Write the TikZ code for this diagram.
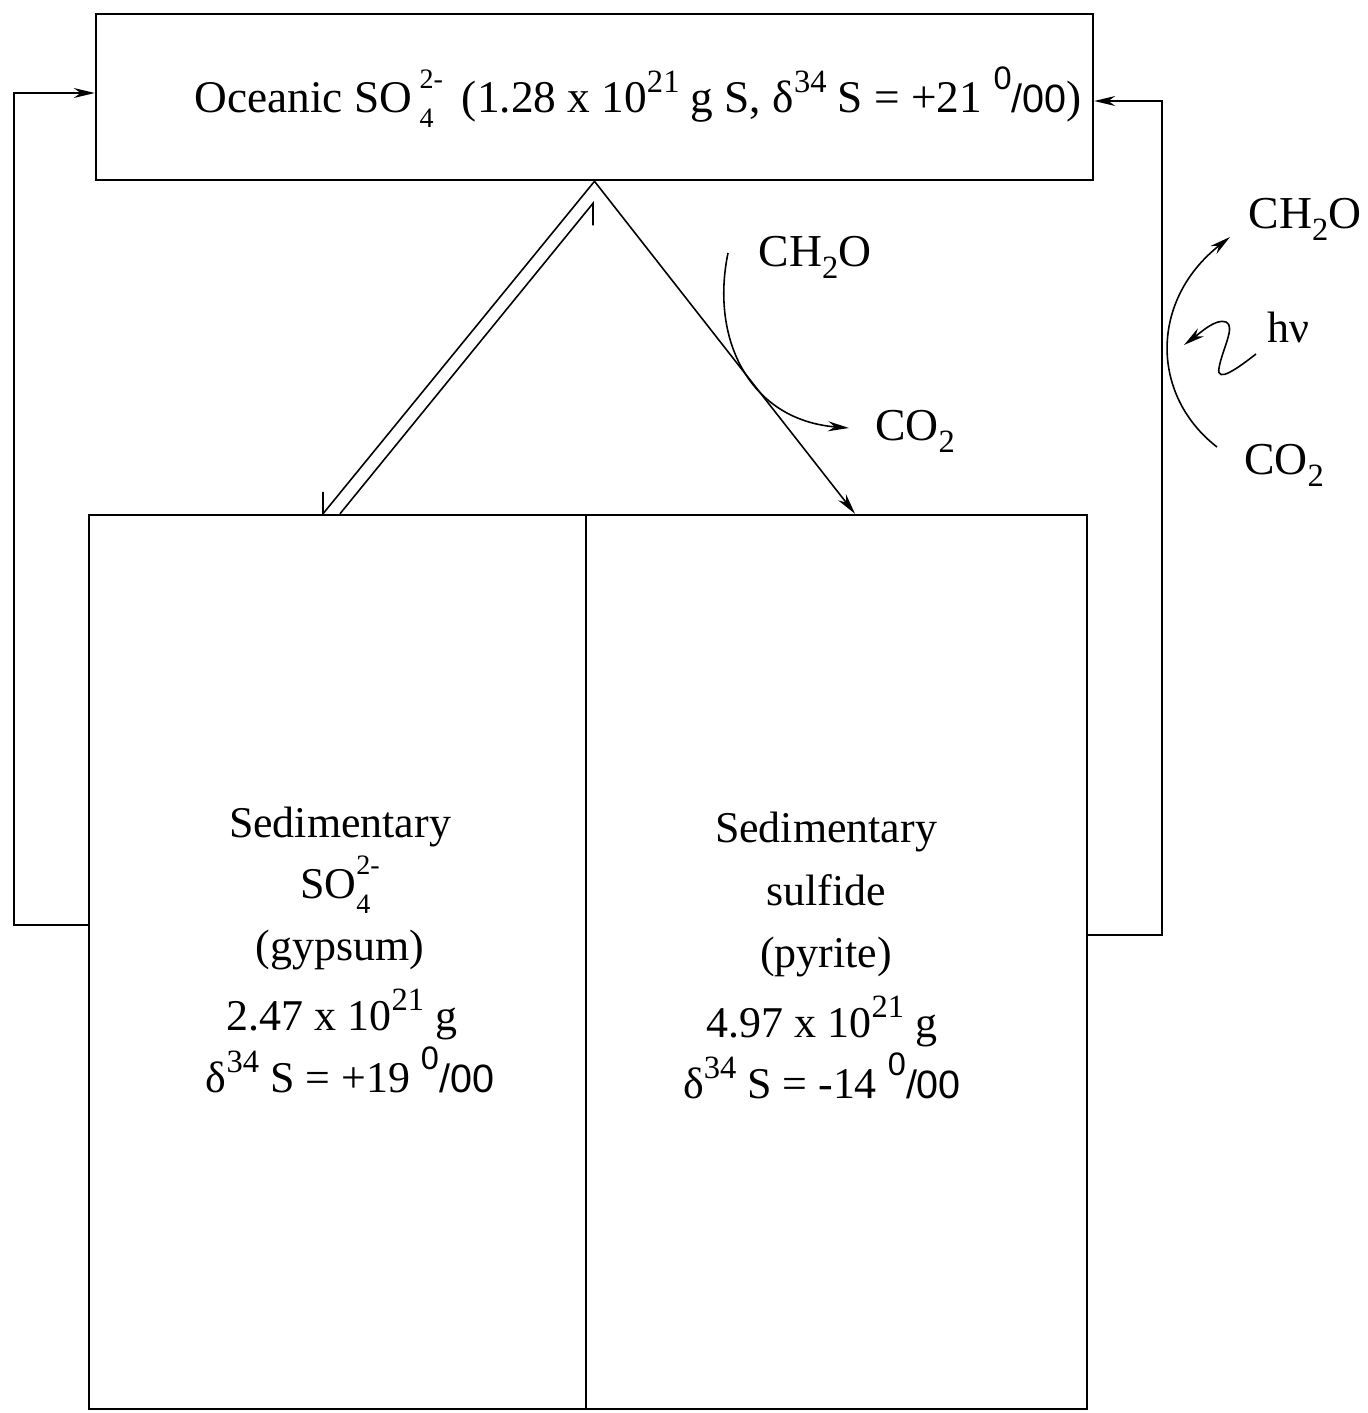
\documentclass[tikz,border=0pt]{standalone}
\usepackage{fontspec}
\setmainfont{Liberation Serif}
\setsansfont{Liberation Sans}
\usetikzlibrary{arrows.meta,calc}

\newcommand\supr[1]{\raisebox{0.95ex}{\fontsize{18.5}{18.5}\selectfont #1}}
\newcommand\subr[1]{\raisebox{-0.6ex}{\fontsize{18.5}{18.5}\selectfont #1}}
\newcommand\supi[1]{\raisebox{1.15ex}{\fontsize{16}{16}\selectfont #1}}
\newcommand\subi[1]{\raisebox{-0.75ex}{\fontsize{16}{16}\selectfont #1}}
\newcommand\ionx[2]{\mbox{\rlap{\subi{#1}}\supi{#2}}}
\newcommand\pml{{\sffamily\supr{0}\fontsize{22.5}{22.5}\selectfont/00}}

\begin{document}
\begin{tikzpicture}[x=0.02cm,y=-0.02cm,
  box/.style={draw, line width=1.5pt, inner sep=0pt},
  lbl/.style={anchor=base, inner sep=0pt, font=\fontsize{25}{30}\selectfont},
  conn/.style={line width=0.9pt},
  >={Stealth[length=0.42cm,width=0.2cm]}]

\useasboundingbox (0,0) rectangle (1367,1413);

% boxes
\node[box, minimum width=19.94cm, minimum height=3.32cm] (ocean) at (594.5,97) {};
\node[box, minimum width=9.94cm, minimum height=17.88cm] (gyp) at (337.5,962) {};
\node[box, minimum width=10.02cm, minimum height=17.88cm] (pyr) at (836.5,962) {};

% texts
\node[lbl, font=\fontsize{25.8}{30}\selectfont] (oceantxt) at (638,112) {Oceanic SO\,\ionx{4}{2-}\, (1.28 x 10\supr{21} g S, δ\supr{34} S = +21 \pml)};

\node[lbl] (g1) at (340,837) {Sedimentary};
\node[lbl] (g2) at (340,898) {SO\ionx{4}{2-}};
\node[lbl] (g3) at (340,960) {(gypsum)};
\node[lbl] (g4) at (342,1030) {2.47 x 10\supr{21} g};
\node[lbl] (g5) at (350,1092) {δ\supr{34} S = +19 \pml};

\node[lbl] (p1) at (826,842) {Sedimentary};
\node[lbl] (p2) at (826,905) {sulfide};
\node[lbl] (p3) at (826,967) {(pyrite)};
\node[lbl] (p4) at (822,1037) {4.97 x 10\supr{21} g};
\node[lbl] (p5) at (822,1098) {δ\supr{34} S = -14 \pml};

\node[lbl, font=\fontsize{26}{30}\selectfont] (ch2oA) at (815,266) {CH\subr{2}O};
\node[lbl, font=\fontsize{26}{30}\selectfont] (co2A) at (915,440) {CO\subr{2}};
\node[lbl, font=\fontsize{26}{30}\selectfont] (ch2oB) at (1305,228) {CH\subr{2}O};
\node[lbl] (hv) at (1288,342) {hν};
\node[lbl, font=\fontsize{26}{30}\selectfont] (co2B) at (1284,474) {CO\subr{2}};

% side loops
\coordinate (lbend) at (14,925);
\draw[conn,->] (gyp.west |- lbend) -- (lbend) |- ($(ocean.west)+(0,-4)$);
\coordinate (rbend) at (1162,935);
\draw[conn,->] (pyr.east |- rbend) -- (rbend) |- ($(ocean.east)+(0,4)$);

% double half-arrows
\coordinate (dA) at ($(gyp.north)+(-14.5,0)$);
\coordinate (dB) at ($(gyp.north)+(2.5,0)$);
\coordinate (dT) at ($(ocean.south)+(-1.5,22)$);
\draw[conn] (ocean.south) -- (dA) -- ++(0,-22);
\draw[conn] (dB) -- (dT) -- ++(0,22);

% diagonal to pyrite
\coordinate (dR) at ($(pyr.north)+(18.5,0)$);
\draw[conn,->] (ocean.south) -- (dR);

% CH2O -> CO2 curve
\coordinate (cA) at (728,253);
\coordinate (cB) at (849,428);
\draw[conn,->] (cA) .. controls (710,340) and (750,420) .. (cB);

% CO2 -> CH2O (photosynthesis)
\coordinate (pA) at (1217,447);
\coordinate (pB) at (1230,237);
\draw[conn,->] (pA) .. controls (1150,395) and (1150,300) .. (pB);

% light squiggle
\coordinate (sA) at (1256,354);
\coordinate (sB) at (1184,345);
\draw[conn,->] (sA) .. controls (1238,368) and (1216,384) .. (1219,368)
  .. controls (1222,350) and (1236,326) .. (1226,322)
  .. controls (1216,318) and (1200,333) .. (sB);
\end{tikzpicture}
\end{document}
